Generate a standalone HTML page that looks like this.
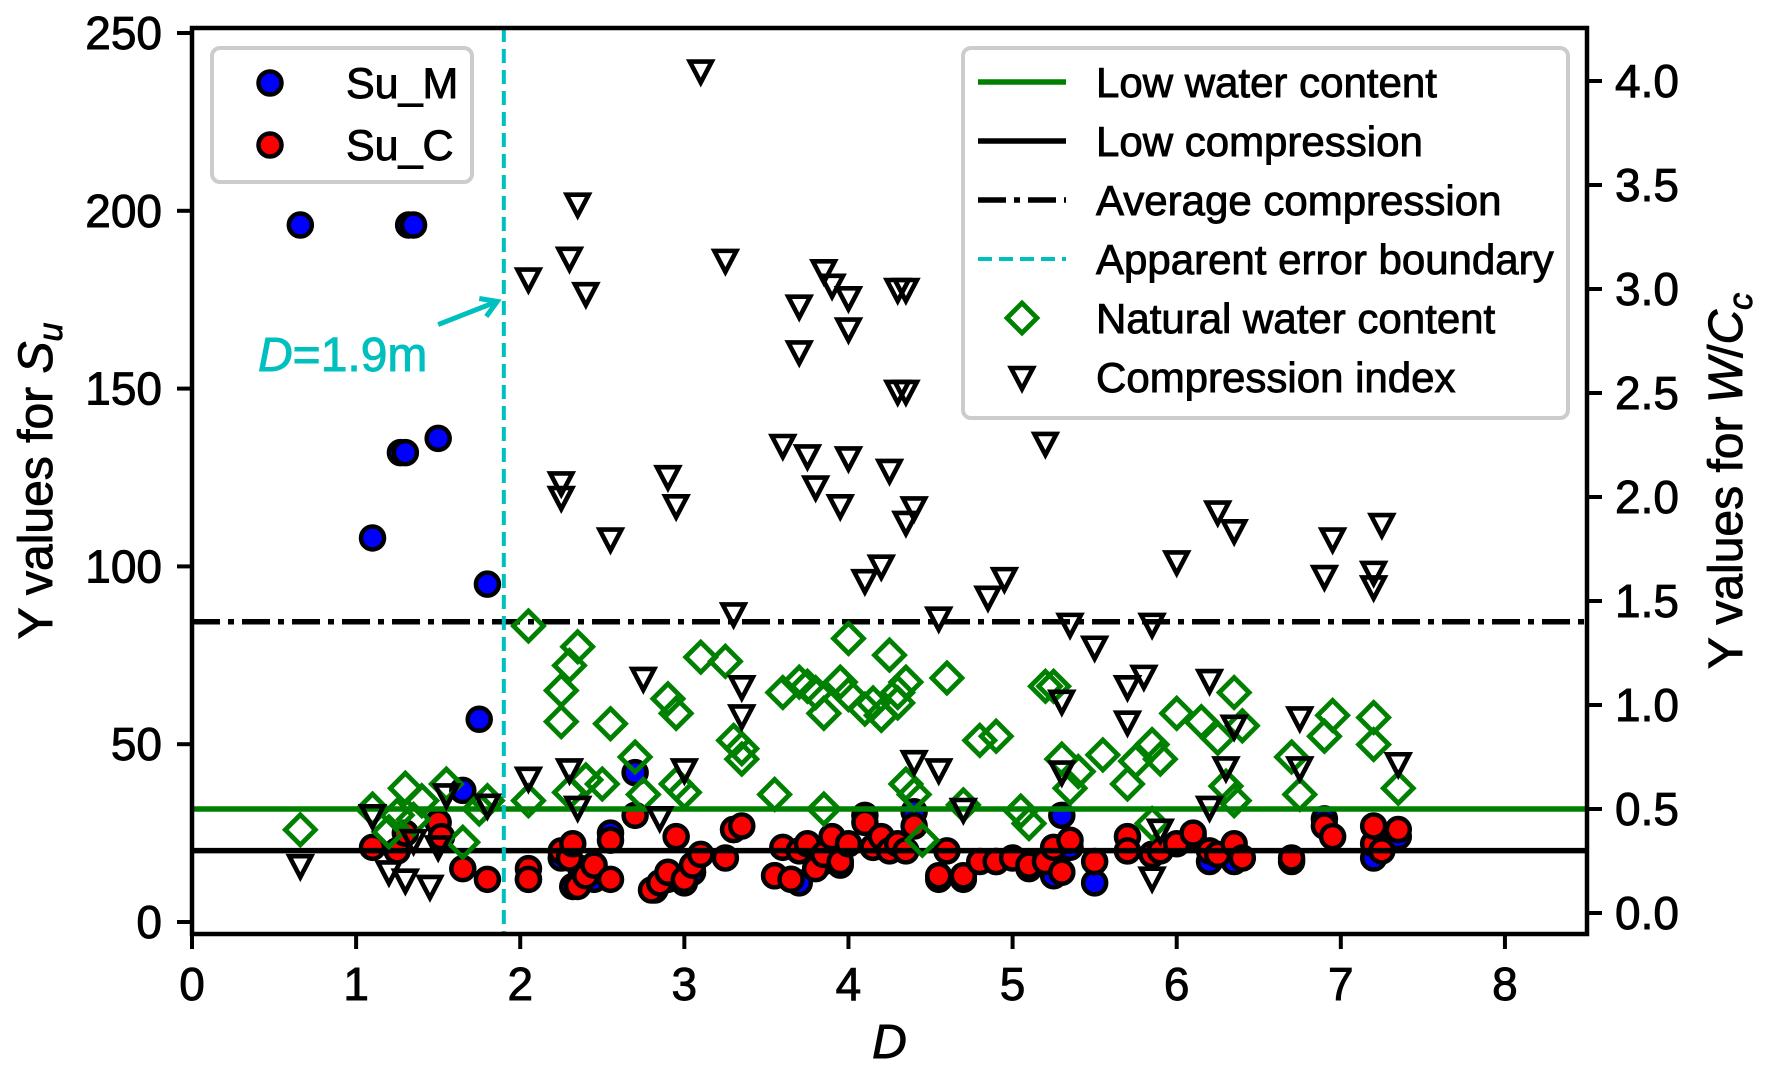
<!DOCTYPE html>
<html><head><meta charset="utf-8">
<style>
html,body{margin:0;padding:0;background:#fff;}
svg{display:block;font-family:"Liberation Sans",Arial,sans-serif;}
text{stroke:#000;stroke-width:0.9px;}
</style></head>
<body>
<svg id="chart" width="1779" height="1084" viewBox="0 0 1779 1084">
<g id="plot"></g>
</svg>
<script>
// ---- data ----
const suMx = [0.66,1.32,1.35,1.27,1.30,1.50,1.10,1.80,1.75,1.65,1.25,1.52,2.05,2.25,2.32,2.37,2.45,2.55,2.70,2.82,2.90,3.00,3.05,3.30,3.55,3.65,3.70,3.85,3.95,4.10,4.15,4.30,4.40,4.55,4.70,4.90,5.10,5.25,5.30,5.35,5.50,5.70,5.85,6.10,6.20,6.35,6.70,6.90,7.20,7.22,7.35];
const suMy = [196,196,196,132,132,136,108,95,57,37,20,24,12,18,10,15,12,25,42,9,12,11,14,26,13,12,11,17,16,30,21,21,31,12,12,17,15,13,30,21,11,20,19,24,17,17,17,29,18,22,24];
const suCx = [1.10,1.25,1.30,1.50,1.52,1.65,1.80,2.05,2.05,2.25,2.30,2.32,2.35,2.40,2.45,2.55,2.55,2.70,2.80,2.85,2.90,2.95,3.00,3.05,3.10,3.25,3.30,3.35,3.55,3.60,3.65,3.70,3.75,3.80,3.85,3.90,3.95,4.00,4.10,4.15,4.20,4.25,4.30,4.35,4.40,4.55,4.60,4.70,4.80,4.90,5.00,5.10,5.20,5.25,5.30,5.35,5.50,5.70,5.70,5.85,5.90,6.00,6.10,6.20,6.25,6.35,6.40,6.70,6.90,6.95,7.20,7.25,7.35,7.20];
const suCy = [21,20,25,28,24,15,12,15,12,20,18,22,10,13,16,12,23,30,9,11,14,24,12,16,19,18,26,27,13,21,12,20,22,15,19,24,17,22,28,21,24,20,22,20,27,13,20,13,17,17,18,16,17,21,14,23,17,24,20,19,20,22,25,20,19,22,18,18,27,24,22,20,26,27];
const wcX = [0.66,1.10,1.20,1.25,1.30,1.35,1.40,1.55,1.65,1.75,1.80,2.05,2.05,2.25,2.25,2.30,2.30,2.35,2.40,2.50,2.55,2.70,2.75,2.90,2.95,2.95,3.00,3.10,3.25,3.30,3.35,3.35,3.55,3.60,3.70,3.75,3.80,3.85,3.85,3.95,4.00,4.00,4.10,4.15,4.20,4.25,4.30,4.30,4.35,4.35,4.40,4.45,4.60,4.70,4.80,4.90,5.05,5.10,5.20,5.25,5.30,5.35,5.40,5.55,5.70,5.75,5.85,5.90,5.85,6.00,6.15,6.25,6.30,6.35,6.40,6.35,6.70,6.75,6.90,6.95,7.20,7.20,7.35];
const wcY = [0.40,0.50,0.39,0.47,0.60,0.45,0.54,0.62,0.34,0.50,0.54,1.38,0.54,1.07,0.92,1.19,0.58,1.28,0.64,0.62,0.91,0.75,0.57,1.03,0.96,0.62,0.58,1.23,1.21,0.83,0.79,0.74,0.57,1.06,1.11,1.09,1.06,0.96,0.50,1.11,1.32,1.05,0.98,1.01,0.95,1.24,1.06,1.01,1.11,0.62,0.57,0.35,1.13,0.52,0.83,0.85,0.49,0.43,1.09,1.09,0.74,0.60,0.68,0.76,0.62,0.73,0.81,0.74,0.43,0.96,0.92,0.84,0.61,1.06,0.90,0.54,0.75,0.57,0.85,0.95,0.94,0.81,0.60];
const ccX = [0.66,1.10,1.20,1.30,1.45,1.50,1.55,1.80,1.35,2.05,2.05,2.25,2.25,2.30,2.35,2.40,2.30,2.35,2.55,2.75,2.90,2.95,3.00,3.10,3.25,3.30,3.35,3.35,3.60,3.70,3.70,3.75,3.80,3.85,3.90,3.95,4.00,4.00,4.00,4.10,4.20,4.25,4.30,4.35,4.30,4.35,4.35,4.40,4.40,4.55,4.55,4.70,4.85,4.95,5.20,5.30,5.30,5.35,5.50,5.70,5.70,5.80,5.85,5.85,5.90,6.00,6.20,6.25,6.30,6.35,6.35,6.75,6.75,6.90,6.95,7.20,7.20,7.25,7.35,6.20,2.85];
const ccY = [0.23,0.47,0.20,0.16,0.13,0.32,0.57,0.52,0.35,3.05,0.65,2.07,2.00,3.15,3.41,2.98,0.69,0.51,1.80,1.13,2.10,1.96,0.69,4.05,3.14,1.44,1.09,0.95,2.25,2.70,2.92,2.20,2.05,3.09,3.02,1.96,2.96,2.81,2.19,1.60,1.67,2.13,3.00,3.00,2.51,2.51,1.88,1.95,0.73,1.42,0.69,0.50,1.52,1.61,2.26,1.02,0.68,1.39,1.28,1.09,0.92,1.14,1.39,0.17,0.40,1.69,1.12,1.93,0.70,1.84,0.90,0.94,0.70,1.62,1.80,1.64,1.57,1.87,0.72,0.51,0.46];
const hLines = [0.5, 0.3, 1.4];
const boundaryD = 1.9;
const xTicks = [0,1,2,3,4,5,6,7,8];
const yLeftTicks = [0,50,100,150,200,250];
const yRightTicks = [0.0,0.5,1.0,1.5,2.0,2.5,3.0,3.5,4.0];

// ---- axes ----
const L=192,R=1587,T=28,B=934;
const X = d => L + d*(R-L)/8.5;
const YL = v => 922 - v*3.556;
const YR = v => 913 - v*208;
const NS="http://www.w3.org/2000/svg";
const g=document.getElementById('plot');
function mk(tag,attrs,parent){const e=document.createElementNS(NS,tag);for(const k in attrs)e.setAttribute(k,attrs[k]);(parent||g).appendChild(e);return e;}

const clip=mk('clipPath',{id:'cp'});mk('rect',{x:L,y:T,width:R-L,height:B-T},clip);
const pg=mk('g',{'clip-path':'url(#cp)'});



function circle(x,y,fill,name){const c=mk('circle',{cx:x,cy:y,r:11.5,fill:fill,stroke:'#000','stroke-width':4.5},pg);

}
suMx.forEach((d,i)=>circle(X(d),YL(suMy[i]),'#0000ff','su-m-point'));
suCx.forEach((d,i)=>circle(X(d),YL(suCy[i]),'#ff0000','su-c-point'));

// reference lines
const hl1=mk('line',{x1:L,x2:R,y1:YR(hLines[0]),y2:YR(hLines[0]),stroke:'#008000','stroke-width':5.5},pg);


const hl2=mk('line',{x1:L,x2:R,y1:YR(hLines[1]),y2:YR(hLines[1]),stroke:'#000','stroke-width':5.5},pg);


const hl3=mk('line',{x1:L,x2:R,y1:YR(hLines[2]),y2:YR(hLines[2]),stroke:'#000','stroke-width':5.5,'stroke-dasharray':'28,8,6,8'},pg);


const vl=mk('line',{x1:X(boundaryD),x2:X(boundaryD),y1:T,y2:B,stroke:'#00bfbf','stroke-width':4,'stroke-dasharray':'14,7'},pg);



function diamond(x,y){const s=15;const p=mk('polygon',{points:`${x},${y-s} ${x+s},${y} ${x},${y+s} ${x-s},${y}`,fill:'none',stroke:'#008000','stroke-width':4.8},pg);

}
wcX.forEach((d,i)=>diamond(X(d),YR(wcY[i])));
function tri(x,y){const p=mk('polygon',{points:`${x-11},${y-9} ${x+11},${y-9} ${x},${y+12}`,fill:'none',stroke:'#000','stroke-width':4.6},pg);

}
ccX.forEach((d,i)=>tri(X(d),YR(ccY[i])));

// spines
const sp=mk('rect',{x:L,y:T,width:R-L,height:B-T,fill:'none',stroke:'#000','stroke-width':4.5});



// ticks
xTicks.forEach(t=>{mk('line',{x1:X(t),x2:X(t),y1:B,y2:B+15,stroke:'#000','stroke-width':4});
const tx=mk('text',{x:X(t),y:1000,'font-size':46,'text-anchor':'middle'});tx.textContent=t;

});
yLeftTicks.forEach(t=>{mk('line',{x1:L-15,x2:L,y1:YL(t),y2:YL(t),stroke:'#000','stroke-width':4});
const tx=mk('text',{x:162,y:YL(t)+16,'font-size':46,'text-anchor':'end'});tx.textContent=t;

});
yRightTicks.forEach(t=>{mk('line',{x1:R,x2:R+15,y1:YR(t),y2:YR(t),stroke:'#000','stroke-width':4});
const tx=mk('text',{x:1615,y:YR(t)+16,'font-size':46,'text-anchor':'start'});tx.textContent=t.toFixed(1);

});

// axis labels
const xl=mk('text',{x:(L+R)/2,y:1058,'font-size':48,'text-anchor':'middle','font-style':'italic'});xl.textContent='D';


const yl=mk('text',{transform:'translate(52,481) rotate(-90)','font-size':48,'text-anchor':'middle'});
yl.innerHTML='Y values for <tspan font-style="italic">S</tspan><tspan font-style="italic" font-size="34" dy="10">u</tspan>';


const yr=mk('text',{transform:'translate(1742,481) rotate(-90)','font-size':48,'text-anchor':'middle'});
yr.innerHTML='Y values for <tspan font-style="italic">W</tspan>/<tspan font-style="italic">C</tspan><tspan font-style="italic" font-size="34" dy="10">c</tspan>';



// annotation
const an=mk('text',{x:258,y:371,'font-size':48,fill:'#00bfbf',style:'stroke:#00bfbf'});
an.innerHTML='<tspan font-style="italic">D</tspan>=1.9m';


const ar=mk('g',{stroke:'#00bfbf','stroke-width':5,fill:'none'});


mk('line',{x1:X(1.5),y1:YL(168),x2:X(1.86),y2:YL(174.5)},ar);
mk('polyline',{points:`${X(1.86)-18},${YL(174.5)-3} ${X(1.86)},${YL(174.5)} ${X(1.86)-11},${YL(174.5)+15}`},ar);

// legend 1
const lg1=mk('g',{});


mk('rect',{x:212,y:48,width:260,height:134,rx:8,fill:'#fff','fill-opacity':0.85,stroke:'#cccccc','stroke-width':4},lg1);
[['#0000ff','Su_M',83],['#ff0000','Su_C',145]].forEach(e=>{
const it=mk('g',{},lg1);


mk('circle',{cx:270,cy:e[2],r:11.5,fill:e[0],stroke:'#000','stroke-width':4.5},it);
const t=mk('text',{x:346,y:e[2]+15,'font-size':43},it);t.textContent=e[1];});

// legend 2
const lg2=mk('g',{});


mk('rect',{x:963,y:48,width:605,height:370,rx:8,fill:'#fff','fill-opacity':0.85,stroke:'#cccccc','stroke-width':4},lg2);
const items=[['Low water content','line','#008000',null],['Low compression','line','#000',null],['Average compression','line','#000','28,8,6,8'],['Apparent error boundary','line','#00bfbf','14,7'],['Natural water content','diamond'],['Compression index','tri']];
items.forEach((e,i)=>{const y=82+i*59;
const it=mk('g',{},lg2);


if(e[1]==='line')mk('line',{x1:978,x2:1066,y1:y,y2:y,stroke:e[2],'stroke-width':e[2]==='#00bfbf'?4:5.5,'stroke-dasharray':e[3]||'none'},it);
else if(e[1]==='diamond')mk('polygon',{points:`1022,${y-15} 1037,${y} 1022,${y+15} 1007,${y}`,fill:'none',stroke:'#008000','stroke-width':4.8},it);
else mk('polygon',{points:`1011,${y-9} 1033,${y-9} 1022,${y+12}`,fill:'none',stroke:'#000','stroke-width':4.6},it);
const t=mk('text',{x:1096,y:y+15,'font-size':42},it);t.textContent=e[0];});
</script>
</body></html>
